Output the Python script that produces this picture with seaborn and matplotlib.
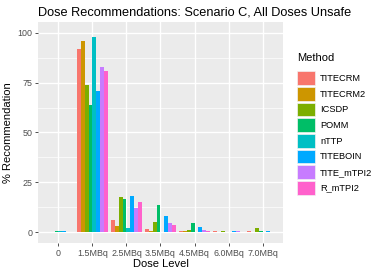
import numpy as np
import pandas as pd
import matplotlib
matplotlib.use("Agg")
import matplotlib.pyplot as plt
from matplotlib.patches import Patch
from matplotlib.ticker import MultipleLocator
import seaborn as sns

doses = ["0", "1.5MBq", "2.5MBq", "3.5MBq", "4.5MBq", "6.0MBq", "7.0MBq"]
methods = ["TITECRM", "TITECRM2", "ICSDP", "POMM", "nTTP", "TITEBOIN", "TITE_mTPI2", "R_mTPI2"]

# % recommendation per dose level for each method
titecrm = [0.2, 92.0, 6.2, 1.6, 0.7, 0.3, 0.3]
titecrm2 = [0.1, 96.0, 3.2, 0.6, 0.3, 0.1, 0.2]
icsdp = [0.2, 74.0, 17.7, 5.2, 1.0, 0.3, 2.1]
pomm = [0.3, 64.0, 16.7, 13.7, 4.5, 0.2, 0.7]
nttp = [0.4, 98.0, 2.2, 0.0, 0.0, 0.0, 0.0]
titeboin = [0.3, 70.7, 18.2, 8.2, 2.7, 0.6, 0.4]
tite_mtpi2 = [0.2, 83.0, 12.0, 4.3, 1.0, 0.4, 0.2]
r_mtpi2 = [0.1, 81.0, 15.0, 3.7, 0.3, 0.1, 0.2]

palette = ["#F8766D", "#CD9600", "#7CAE00", "#00BE67",
           "#00BFC4", "#00A9FF", "#C77CFF", "#FF61CC"]

series = [titecrm, titecrm2, icsdp, pomm, nttp, titeboin, tite_mtpi2, r_mtpi2]
rows = []
for m, vals in zip(methods, series):
    for d, v in zip(doses, vals):
        rows.append({"Dose": d, "Method": m, "Pct": v})
df = pd.DataFrame(rows)

plt.rcParams["font.family"] = ["Liberation Sans", "DejaVu Sans"]

W, H = 382, 273
fig = plt.figure(figsize=(W / 100, H / 100), dpi=100)
ax = fig.add_axes([38 / W, (H - 243) / H, 245 / W, 221 / H])
ax.set_facecolor("#EBEBEB")

sns.barplot(data=df, x="Dose", y="Pct", hue="Method", order=doses,
            hue_order=methods, palette=palette, width=0.9, gap=0,
            errorbar=None, saturation=1, ax=ax, legend=False, linewidth=0)

ax.set_xlim(-0.6, len(doses) - 0.4)
ax.set_ylim(-5.5, 105.5)
ax.yaxis.set_major_locator(MultipleLocator(25))
ax.yaxis.set_minor_locator(MultipleLocator(12.5))
ax.set_axisbelow(True)
ax.grid(which="major", color="white", linewidth=1.0)
ax.grid(which="minor", axis="y", color="white", linewidth=0.5)
for s in ax.spines.values():
    s.set_visible(False)
ax.tick_params(axis="both", which="major", length=2.5, width=0.6, color="#333333",
               labelsize=6.4, labelcolor="#4D4D4D", pad=1.5)
ax.tick_params(axis="both", which="minor", length=0)

ax.set_xlabel("Dose Level", fontsize=8, color="black", labelpad=1)
ax.set_ylabel("% Recommendation", fontsize=8, color="black", labelpad=3)
ax.set_title("Dose Recommendations: Scenario C, All Doses Unsafe",
             fontsize=9.2, color="black", pad=5, loc="left")

handles = [Patch(facecolor=c, edgecolor="#F2F2F2", linewidth=0.5) for c in palette]
leg = fig.legend(handles, methods, title="Method", loc="upper left",
                 bbox_to_anchor=(297 / W, (H - 53) / H), frameon=False,
                 fontsize=6.7, title_fontsize=8, handlelength=1.9,
                 handleheight=1.9, labelspacing=0.2, handletextpad=0.6,
                 borderaxespad=0, borderpad=0)
leg._legend_box.align = "left"
leg._legend_box.sep = 6

fig.savefig("out.png", dpi=100)
